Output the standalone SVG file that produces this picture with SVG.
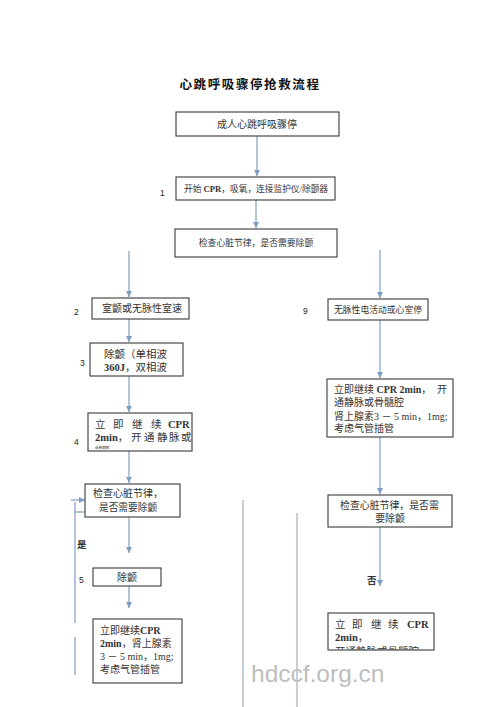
<svg xmlns="http://www.w3.org/2000/svg" width="500" height="707" viewBox="0 0 500 707">
<style>
.box{fill:#fff;stroke:#3a3a3a;stroke-width:1.1}
.t{font-family:"Liberation Serif","Noto Sans CJK SC",serif;fill:#333}
.c{text-anchor:middle}
.num{font-family:"Liberation Sans",Arial,sans-serif;font-size:8.5px;fill:#222}
.con{stroke:#7f9fc2;stroke-width:1.2;fill:none}
.gl{stroke:#9aa6b4;stroke-width:1.1;fill:none}
.ttl{font-family:"Noto Sans CJK SC",sans-serif;font-weight:700;font-size:12.5px;fill:#111;text-anchor:middle;letter-spacing:1.6px}
.wm{font-family:"Liberation Sans",Arial,sans-serif;font-size:24.5px;fill:#bdbdbd}
.b{font-weight:700}
</style>
<defs>
<marker id="ah" markerUnits="userSpaceOnUse" markerWidth="6" markerHeight="6" refX="6" refY="3" orient="auto">
<path d="M0,0 L6,3 L0,6 z" fill="#7f9fc2"/>
</marker>
<clipPath id="clipR"><rect x="328" y="613" width="106" height="36.5"/></clipPath>
</defs>
<rect width="500" height="707" fill="#fff"/>
<text class="ttl" x="250" y="89">心跳呼吸骤停抢救流程</text>

<g id="connectors">
<line class="con" x1="257" y1="136" x2="257" y2="176" marker-end="url(#ah)"/>
<line class="con" x1="256" y1="200" x2="256" y2="228" marker-end="url(#ah)"/>
<line class="con" x1="129" y1="251" x2="129" y2="297" marker-end="url(#ah)"/>
<line class="con" x1="380" y1="250" x2="380" y2="298" marker-end="url(#ah)"/>
<line class="con" x1="129" y1="319" x2="129" y2="342" marker-end="url(#ah)"/>
<line class="con" x1="129" y1="376" x2="129" y2="412" marker-end="url(#ah)"/>
<line class="con" x1="129" y1="451" x2="129" y2="483" marker-end="url(#ah)"/>
<line class="con" x1="129" y1="517" x2="129" y2="553" marker-end="url(#ah)"/>
<line class="con" x1="129" y1="586" x2="129" y2="608" marker-end="url(#ah)"/>
<line class="con" x1="380" y1="320" x2="380" y2="378" marker-end="url(#ah)"/>
<line class="con" x1="380" y1="437" x2="380" y2="494" marker-end="url(#ah)"/>
<line class="con" x1="380" y1="527" x2="380" y2="586" marker-end="url(#ah)"/>
<line class="con" x1="71" y1="500" x2="85" y2="500" marker-end="url(#ah)"/>
<polyline class="con" points="85,512 75,512"/>
<line class="con" x1="75" y1="502" x2="75" y2="623"/>
<line class="con" x1="75" y1="637" x2="75" y2="675"/>
<line class="gl" x1="243" y1="500" x2="243" y2="707"/>
<line class="gl" x1="297" y1="513" x2="297" y2="707"/>
</g>

<g id="n0">
<rect class="box" x="176" y="112" width="163" height="24"/>
<text class="t c" x="257" y="128" font-size="10">成人心跳呼吸骤停</text>
</g>
<g id="n1">
<rect class="box" x="176" y="177" width="159" height="23"/>
<text class="t c" x="256" y="192" font-size="8.7">开始 <tspan class="b">CPR</tspan>，吸氧，连接监护仪/除颤器</text>
<text class="num" x="160" y="196">1</text>
</g>
<g id="n2">
<rect class="box" x="175" y="229" width="162" height="28"/>
<text class="t c" x="256" y="246" font-size="8.8">检查心脏节律，是否需要除颤</text>
</g>
<g id="n3">
<rect class="box" x="92" y="298" width="97" height="21"/>
<text class="t c" x="142" y="312" font-size="10">室颤或无脉性室速</text>
<text class="num" x="74" y="315">2</text>
</g>
<g id="n4">
<rect class="box" x="90" y="343" width="93" height="33"/>
<text class="t" x="104" y="358" font-size="10.5">除颤（单相波</text>
<text class="t" x="104" y="371" font-size="10.5"><tspan class="b">360J</tspan>，双相波</text>
<text class="num" x="80" y="366">3</text>
</g>
<g id="n5">
<rect class="box" x="88" y="413" width="104" height="38"/>
<text class="t" y="428" font-size="10.5"><tspan x="95">立</tspan><tspan x="113">即</tspan><tspan x="132">继</tspan><tspan x="151">续</tspan><tspan x="168" class="b">CPR</tspan></text>
<text class="t" y="441" font-size="10.5"><tspan x="95" class="b">2min</tspan>，<tspan x="131">开</tspan><tspan x="144">通</tspan><tspan x="157">静</tspan><tspan x="169">脉</tspan><tspan x="181">或</tspan></text>
<text class="t" x="95" y="448.5" font-size="3.6">或骨髓腔</text>
<text class="num" x="74" y="445">4</text>
</g>
<g id="n6">
<rect class="box" x="85" y="484" width="95" height="33"/>
<text class="t" x="93" y="497" font-size="10">检查心脏节律，</text>
<text class="t" x="99" y="511" font-size="9.7">是否需要除颤</text>
<text class="t" x="77" y="548" font-size="9.5" font-weight="700">是</text>
</g>
<g id="n7">
<rect class="box" x="93" y="568" width="68" height="18"/>
<text class="t c" x="127" y="581" font-size="10">除颤</text>
<text class="num" x="79" y="583">5</text>
</g>
<g id="n8">
<rect class="box" x="93" y="619" width="89" height="64"/>
<text class="t" x="100" y="634" font-size="10">立即继续<tspan class="b">CPR</tspan></text>
<text class="t" x="100" y="647" font-size="10"><tspan class="b">2min</tspan>，肾上腺素</text>
<text class="t" x="100" y="660" font-size="10">3 － 5 min，1mg;</text>
<text class="t" x="100" y="673" font-size="10">考虑气管插管</text>
</g>
<g id="n9">
<rect class="box" x="328" y="299" width="100" height="21"/>
<text class="t c" x="378" y="313" font-size="8.8">无脉性电活动或心室停</text>
<text class="num" x="303" y="314">9</text>
</g>
<g id="n10">
<rect class="box" x="327" y="379" width="126" height="58"/>
<text class="t" y="393" font-size="10"><tspan x="334">立即继续 </tspan><tspan class="b">CPR 2min</tspan>，<tspan x="437">开</tspan></text>
<text class="t" x="334" y="406" font-size="10">通静脉或骨髓腔</text>
<text class="t" x="334" y="420" font-size="10">肾上腺素3 － 5 min，1mg;</text>
<text class="t" x="334" y="432" font-size="10">考虑气管插管</text>
</g>
<g id="n11">
<rect class="box" x="328" y="495" width="124" height="32"/>
<text class="t" x="340" y="509" font-size="9.9">检查心脏节律，是否需</text>
<text class="t c" x="390" y="522" font-size="9.9">要除颤</text>
<text class="t" x="367" y="584" font-size="9.5" font-weight="700">否</text>
</g>
<g id="n12">
<rect class="box" x="328" y="613" width="106" height="37"/>
<text class="t" y="628" font-size="10.5"><tspan x="335">立</tspan><tspan x="352">即</tspan><tspan x="371">继</tspan><tspan x="388">续</tspan><tspan x="407" class="b">CPR</tspan></text>
<text class="t" x="335" y="641" font-size="10.5"><tspan class="b">2min</tspan>，</text>
<text class="t" x="335" y="655" font-size="10.5" clip-path="url(#clipR)">开通静脉或骨髓腔</text>
</g>
<text class="wm" x="251" y="682">hdccf.org.cn</text>
</svg>
